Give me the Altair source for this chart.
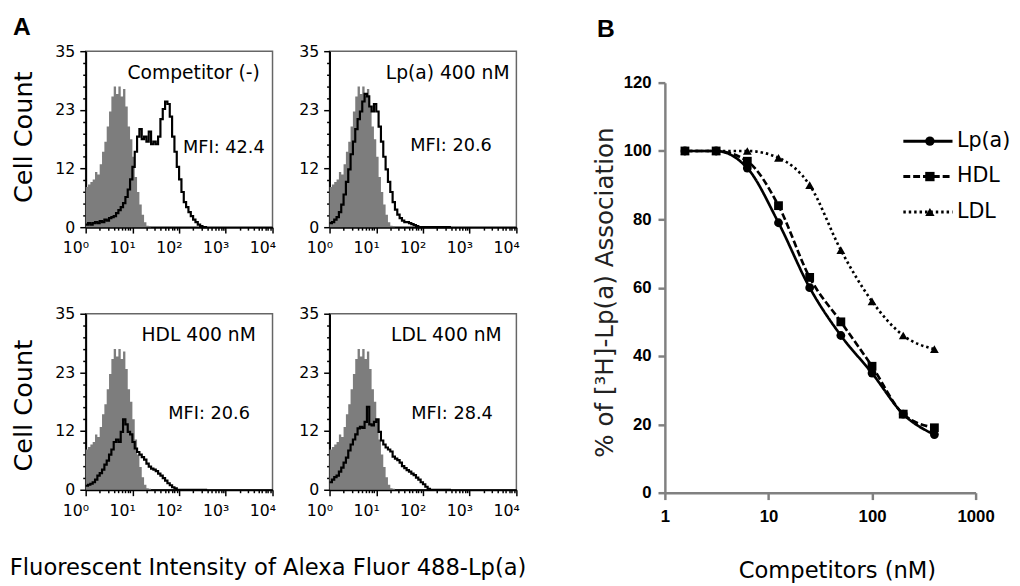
import altair as alt
import pandas as pd

# ---------------- Panel A: flow cytometry histograms ----------------
# bin left edges, in decades of fluorescence intensity (10^x)
BIN_LOG = [0.00, 0.05, 0.10, 0.15, 0.20, 0.25, 0.30, 0.35, 0.40, 0.45,
           0.50, 0.55, 0.60, 0.65, 0.70, 0.75, 0.80, 0.85, 0.90, 0.95,
           1.00, 1.05, 1.10, 1.15, 1.20, 1.25, 1.30, 1.35, 1.40, 1.45,
           1.50, 1.55, 1.60, 1.65, 1.70, 1.75, 1.80, 1.85, 1.90, 1.95,
           2.00, 2.05, 2.10, 2.15, 2.20, 2.25, 2.30, 2.35, 2.40, 2.45,
           2.50, 2.55, 2.60]

# grey filled control histogram (same in every panel)
CONTROL = [8, 8.5, 9, 9.5, 11, 10.5, 12.5, 15, 17, 20,
           23, 26, 28, 26.5, 28, 26, 27.5, 24, 20, 17.5,
           14, 10, 7, 4.5, 2.5, 1, 0.3, 0.2, 0, 0,
           0, 0, 0, 0, 0, 0, 0, 0, 0, 0,
           0, 0, 0, 0, 0, 0, 0, 0, 0, 0,
           0, 0, 0]

COMP_NONE = [0.5, 0.8, 0.5, 0.8, 1.0, 0.8, 1.2, 1.0, 1.5, 1.3,
             1.8, 2.0, 2.2, 2.8, 3.4, 4.0, 4.8, 6.0, 7.5, 9.5,
             12, 15, 18, 19.5, 17.5, 18, 17, 19, 16.5, 17,
             16.5, 18, 21.5, 23.5, 25, 24.5, 22, 18, 15, 12,
             9.5, 7, 5, 4, 3, 2.2, 1.5, 1.0, 0.5, 0.2,
             0, 0, 0]

LPA_400 = [0.8, 1, 1.5, 2, 3, 4.5, 6.5, 9, 11.5, 14.5,
           17, 19.5, 21.5, 23, 25, 26.5, 26, 24, 23, 24.5,
           23, 20, 17, 14, 11.5, 9, 7, 5, 3.5, 2.5,
           1.8, 1.3, 1, 1, 0.8, 0.6, 0.4, 0.2, 0, 0,
           0, 0, 0, 0, 0, 0, 0, 0, 0, 0,
           0, 0, 0]

HDL_400 = [0.8, 1, 1.2, 1.5, 2, 2.8, 3.3, 4, 5, 5.8,
           7, 8, 9.5, 10, 9.5, 11.5, 14, 13, 11.5, 11,
           9.5, 8.2, 7.5, 7, 6.5, 6, 5.2, 4.6, 4.2, 4,
           3.7, 3.2, 2.8, 2.3, 1.8, 1.3, 0.9, 0.5, 0.3, 0,
           0, 0, 0, 0, 0, 0, 0, 0, 0, 0,
           0, 0, 0]

LDL_400 = [1.5, 2, 2.5, 2.8, 3.6, 4.4, 5.4, 6.4, 7.8, 9,
           10, 11, 12.2, 12.5, 12.3, 13.5, 16.5, 13, 12.8, 13.5,
           14, 11.5, 9.8, 9, 8.4, 8, 7.6, 6.6, 6.2, 5.9,
           5.4, 4.7, 4.3, 3.9, 3.6, 3.2, 2.9, 2.4, 2, 1.5,
           1.1, 0.6, 0.2, 0, 0, 0, 0, 0, 0, 0,
           0, 0, 0]

PANEL_TITLES = ["Competitor (-)", "Lp(a) 400 nM", "HDL 400 nM", "LDL 400 nM"]
MFI_LABELS = ["MFI: 42.4", "MFI: 20.6", "MFI: 20.6", "MFI: 28.4"]

Y_TICKS = [0, 2.333, 4.667, 7, 9.333, 11.667, 14, 16.333, 18.667, 21,
           23.333, 25.667, 28, 30.333, 32.667, 35]
X_TICKS = [1, 2, 3, 4, 5, 6, 7, 8, 9,
           10, 20, 30, 40, 50, 60, 70, 80, 90,
           100, 200, 300, 400, 500, 600, 700, 800, 900,
           1000, 2000, 3000, 4000, 5000, 6000, 7000, 8000, 9000, 10000]

# ---------------- Panel B: competition curves ----------------
SERIES = ["Lp(a)", "HDL", "LDL"]
CONC_NM = [1.5625, 3.125, 6.25, 12.5, 25, 50, 100, 200, 400]
PCT_LPA = [100, 100, 95, 79, 60, 46, 35, 23, 17]
PCT_HDL = [100, 100, 97, 84, 63, 50, 37, 23, 19]
PCT_LDL = [100, 100, 100, 98, 90, 71, 56, 46, 42]
B_Y_TICKS = [0, 20, 40, 60, 80, 100, 120]
B_X_TICKS = [1, 10, 100, 1000]

FONT = "DejaVu Sans"
BOLD = "Liberation Sans"

MAJOR_Y = "abs(datum.value*3/35 - round(datum.value*3/35)) < 0.01"
MAJOR_X = "abs(log(datum.value)/LN10 - round(log(datum.value)/LN10)) < 0.001"
SUP = "['\u2070','\u00b9','\u00b2','\u00b3','\u2074']"

HW, HH = 190, 179      # histogram plot size
GAP_X, GAP_Y = 58, 88  # gaps between histogram plots


def hist_panel(series, idx, show_ytitle, ytitle_y, show_xtitle, label_right, mfi_x, mfi_y, title=None):
    df = pd.DataFrame({
        "fl": [10 ** e for e in BIN_LOG],
        "control": CONTROL,
        "sample": series,
    })
    xkw = dict(
        values=X_TICKS,
        labelExpr=f"{MAJOR_X} ? '10' + {SUP}[round(log(datum.value)/LN10)] : ''",
        tickSize={"condition": {"test": MAJOR_X, "value": 6}, "value": 3},
        tickColor="black", tickWidth=1.5,
        domainColor="black", domainWidth=2,
        labelFont=FONT, labelFontSize=16, labelColor="black",
        labelAlign="right", labelOffset=3, labelFlush=False, labelOverlap=False,
        labelPadding=7, grid=False,
    )
    if show_xtitle:
        xkw.update(title="Fluorescent Intensity of Alexa Fluor 488-Lp(a)",
                   titleFont=FONT, titleFontSize=23, titleFontWeight="normal",
                   titleColor="black", titleX=185, titleY=86,
                   titleAlign="center", titleBaseline="alphabetic")
    else:
        xkw.update(title="")
    ykw = dict(
        values=Y_TICKS,
        labelExpr=f"{MAJOR_Y} ? format(datum.value, '.0f') : ''",
        tickSize={"condition": {"test": MAJOR_Y, "value": 6}, "value": 3},
        tickColor="black", tickWidth=1.5,
        domainColor="black", domainWidth=2,
        labelFont=FONT, labelFontSize=16, labelColor="black",
        labelPadding=5, labelOverlap=False, labelFlush=False, grid=False,
    )
    if show_ytitle:
        ykw.update(title="Cell Count", titleFont=FONT, titleFontSize=26,
                   titleFontWeight="normal", titleColor="black",
                   titleX=-55, titleY=ytitle_y, titleAngle=270,
                   titleAlign="center", titleBaseline="alphabetic")
    else:
        ykw.update(title="")
    xenc = alt.X("fl:Q", scale=alt.Scale(type="log", domain=[1, 10000], nice=False),
                 axis=alt.Axis(**xkw))
    yscale = alt.Scale(domain=[0, 35], nice=False)
    area = alt.Chart(df).mark_area(interpolate="step-after", color="#7d7d7d").encode(
        x=xenc, y=alt.Y("control:Q", scale=yscale, axis=alt.Axis(**ykw)))
    line = alt.Chart(df).mark_line(interpolate="step-after", color="black", strokeWidth=2.2).encode(
        x=xenc, y=alt.Y("sample:Q", scale=yscale, axis=alt.Axis(**ykw)))
    ttl = alt.Chart(pd.DataFrame({"t": [PANEL_TITLES[idx]]})).mark_text(
        align="right", baseline="middle", font=FONT, fontSize=19, color="black").encode(
        x=alt.value(label_right), y=alt.value(22), text="t:N")
    mfi = alt.Chart(pd.DataFrame({"t": [MFI_LABELS[idx]]})).mark_text(
        align="left", baseline="middle", font=FONT, fontSize=18, color="black").encode(
        x=alt.value(mfi_x), y=alt.value(mfi_y), text="t:N")
    props = dict(width=HW, height=HH,
                 view=alt.ViewBackground(stroke="#666666", strokeWidth=1.5))
    if title is not None:
        props["title"] = title
    return alt.layer(area, line, ttl, mfi).properties(**props)


title_a = alt.TitleParams(text="A", anchor="start", frame="group", dx=-74, dy=17, offset=0,
                          font=BOLD, fontSize=25, fontWeight="bold", color="black",
                          baseline="alphabetic")

tl = hist_panel(COMP_NONE, 0, True, 87, False, 177, 99, 99, title=title_a)
tr = hist_panel(LPA_400, 1, False, 0, False, 183, 82, 97)
bl = hist_panel(HDL_400, 2, True, 93, True, 173, 84, 102)
br = hist_panel(LDL_400, 3, False, 0, False, 175, 83, 102)

# ---------------- Panel B ----------------
# B sits in the third grid column; its plot is shifted inside its cell
B_LEFT = 93           # plot left inside the cell
B_W, B_H = 316, 417   # plot size
B_TOP = 32            # plot top inside the cell
CELL_W = B_LEFT + B_W

bdf = pd.DataFrame({
    "conc": CONC_NM * 3,
    "pct": PCT_LPA + PCT_HDL + PCT_LDL,
    "series": [SERIES[0]] * 9 + [SERIES[1]] * 9 + [SERIES[2]] * 9,
})
bdf["marker"] = bdf["series"]

xb = alt.X("conc:Q", scale=alt.Scale(type="log", domain=[1, 1000], nice=False,
                                     range=[B_LEFT, B_LEFT + B_W]),
           axis=alt.Axis(values=B_X_TICKS, labelExpr="format(datum.value, 'd')",
                         offset=B_TOP + B_H - HH,
                         title="Competitors (nM)", titleFont=FONT, titleFontSize=23,
                         titleFontWeight="normal", titleColor="black",
                         titleX=B_LEFT + 175, titleY=86, titleAlign="center",
                         titleBaseline="alphabetic",
                         domainColor="#808080", domainWidth=2.5, tickColor="#808080",
                         tickWidth=2.5, tickSize=7, labelFont=BOLD, labelFontWeight="bold",
                         labelFontSize=17, labelColor="black", labelPadding=9,
                         labelFlush=False, labelOverlap=False, grid=False))
yb = alt.Y("pct:Q", scale=alt.Scale(domain=[0, 120], nice=False, range=[B_TOP + B_H, B_TOP]),
           axis=alt.Axis(values=B_Y_TICKS, offset=-B_LEFT,
                         title="% of [\u00b3H]-Lp(a) Association",
                         titleFont=FONT, titleFontSize=25, titleFontWeight="normal",
                         titleColor="#222222", titleX=-53, titleY=B_TOP + 213, titleAngle=270,
                         titleAlign="center", titleBaseline="alphabetic",
                         domainColor="#808080", domainWidth=2.5, tickColor="#808080",
                         tickWidth=2.5, tickSize=7, labelFont=BOLD, labelFontWeight="bold",
                         labelFontSize=17, labelColor="black", labelPadding=7, grid=False))

LEG_X, LEG_Y = 350, 81

lines = alt.Chart(bdf).mark_line(interpolate="monotone", color="black", strokeWidth=2.7).encode(
    x=xb, y=yb,
    strokeDash=alt.StrokeDash("series:N", scale=alt.Scale(domain=SERIES, range=[[1, 0], [7, 3], [2.5, 3]]),
                              legend=alt.Legend(title=None, orient="none", legendX=LEG_X, legendY=LEG_Y,
                                                symbolType="M-5,0L5,0", symbolSize=100,
                                                symbolStrokeWidth=3, symbolStrokeColor="black",
                                                symbolFillColor="transparent",
                                                labelFont=FONT, labelFontSize=21, labelColor="black",
                                                labelOffset=19, rowPadding=14, padding=0)),
)
points = alt.Chart(bdf).mark_point(filled=True, color="black", size=80, opacity=1).encode(
    x=xb, y=yb,
    shape=alt.Shape("marker:N", sort=SERIES,
                    scale=alt.Scale(range=["circle", "square", "triangle-up"]),
                    legend=alt.Legend(title=None, orient="none", legendX=LEG_X + 2, legendY=LEG_Y,
                                      symbolSize=90, symbolFillColor="black", symbolStrokeColor="black",
                                      symbolStrokeWidth=1, symbolOpacity=1,
                                      labelFont=FONT, labelFontSize=21, labelOpacity=0,
                                      labelLimit=20, rowPadding=14, padding=0)),
)

title_b = alt.TitleParams(text="B", anchor="start", frame="group", dx=24, dy=11, offset=0,
                          font=BOLD, fontSize=25, fontWeight="bold", color="black",
                          baseline="alphabetic")

bchart = alt.layer(lines, points).properties(width=CELL_W, height=HH, title=title_b)

chart = alt.concat(tl, tr, bchart, bl, br, columns=3, bounds="flush",
                   spacing={"column": GAP_X, "row": GAP_Y}).resolve_scale(
    shape="independent", strokeDash="independent"
).resolve_legend(
    shape="independent", strokeDash="independent"
).properties(
    padding={"left": 0, "top": 2, "right": 0, "bottom": 0}
).configure(font=FONT).configure_view(stroke="transparent").configure_axis(grid=False)

chart.save("out.html", embed_options={"renderer": "svg", "actions": False})
